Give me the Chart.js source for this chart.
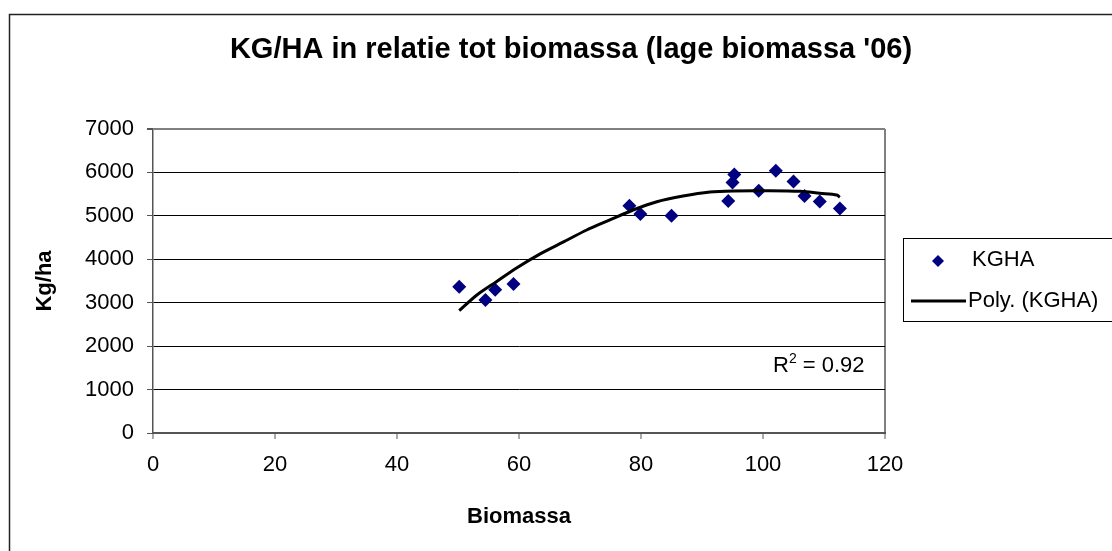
<!DOCTYPE html>
<html>
<head>
<meta charset="utf-8">
<title>KG/HA in relatie tot biomassa</title>
<script src="https://cdn.jsdelivr.net/npm/chart.js@4.4.1/dist/chart.umd.min.js"></script>
<style>
  html, body { margin: 0; padding: 0; background: #fff; overflow: hidden; }
  #wrap { position: relative; width: 1112px; height: 551px; }
</style>
</head>
<body>
<div id="wrap"><canvas id="kghaChart" width="1112" height="551"></canvas></div>
<script>
// meetpunten
const biomassa = [50.2, 54.5, 56.1, 59.1, 78.1, 79.9, 85.0, 94.3, 95.0, 95.3, 99.3, 102.1, 105.0, 106.8, 109.3, 112.6];
const kgha = [3370, 3060, 3300, 3430, 5230, 5040, 5000, 5340, 5770, 5950, 5580, 6040, 5790, 5460, 5330, 5170];

const trendX = [50.2, 53.1, 56.3, 59.6, 63.4, 67.3, 71.1, 74.9, 78.7, 82.6, 86.9, 91.3, 95.1, 100.6, 106.1, 109.3, 112.1, 112.6];
const trendY = [2816, 3178, 3484, 3800, 4120, 4400, 4674, 4905, 5135, 5326, 5457, 5550, 5575, 5579, 5565, 5519, 5480, 5427];

const xTicks = [0, 20, 40, 60, 80, 100, 120];
const yTicks = [0, 1000, 2000, 3000, 4000, 5000, 6000, 7000];

const TITLE = "KG/HA in relatie tot biomassa (lage biomassa '06)";
const R2_TEXT = '0.92';

const COLORS = {
  MARKER: '#000080',
  TREND: '#000000',
  GRID: '#000000',
  FRAME: '#808080',
  AXIS: '#555555',
  TEXT: '#000000'
};
const FONT = '"Liberation Sans", Arial, sans-serif';

// titel, legenda, R² en kader
const decorPlugin = {
  id: 'decor',
  afterDraw(chart) {
    const ctx = chart.ctx;
    ctx.save();

    // buitenkader (rechts en onder buiten beeld)
    ctx.strokeStyle = '#222';
    ctx.lineWidth = 1.5;
    ctx.strokeRect(9.5, 14.5, 1140, 600);

    // titel
    ctx.fillStyle = COLORS.TEXT;
    ctx.font = 'bold 29px ' + FONT;
    ctx.textAlign = 'center';
    ctx.textBaseline = 'middle';
    ctx.fillText(TITLE, 571, 50);

    // R²
    ctx.font = '22px ' + FONT;
    ctx.textAlign = 'left';
    let x = 773;
    const y = 366;
    ctx.fillText('R', x, y);
    x += ctx.measureText('R').width;
    ctx.font = '14px ' + FONT;
    ctx.fillText('2', x, y - 7);
    x += ctx.measureText('2').width;
    ctx.font = '22px ' + FONT;
    ctx.fillText(' = ' + R2_TEXT, x, y);

    // legenda
    ctx.strokeStyle = '#000';
    ctx.lineWidth = 1;
    ctx.strokeRect(903.5, 238.5, 240, 83);

    ctx.fillStyle = COLORS.MARKER;
    ctx.beginPath();
    ctx.moveTo(932, 261);
    ctx.lineTo(938, 255);
    ctx.lineTo(944, 261);
    ctx.lineTo(938, 267);
    ctx.closePath();
    ctx.fill();

    ctx.strokeStyle = COLORS.TREND;
    ctx.lineWidth = 3;
    ctx.beginPath();
    ctx.moveTo(911, 301);
    ctx.lineTo(966, 301);
    ctx.stroke();

    ctx.fillStyle = COLORS.TEXT;
    ctx.font = '22px ' + FONT;
    ctx.fillText('KGHA', 972, 260);
    ctx.fillText('Poly. (KGHA)', 968, 301);

    ctx.restore();
  }
};

new Chart(document.getElementById('kghaChart'), {
  type: 'scatter',
  data: {
    datasets: [{
      label: 'Poly. (KGHA)',
      type: 'line',
      data: trendX.map((v, i) => ({ x: v, y: trendY[i] })),
      borderColor: COLORS.TREND,
      borderWidth: 3,
      pointRadius: 0,
      tension: 0.3,
      fill: false,
      order: 0
    }, {
      label: 'KGHA',
      data: biomassa.map((v, i) => ({ x: v, y: kgha[i] })),
      pointStyle: 'rectRot',
      pointRadius: 7,
      pointBackgroundColor: COLORS.MARKER,
      pointBorderColor: COLORS.MARKER,
      pointBorderWidth: 0,
      order: 1
    }]
  },
  options: {
    responsive: false,
    animation: false,
    devicePixelRatio: 1,
    layout: { padding: { top: 129, right: 227, bottom: 0, left: 0 } },
    plugins: {
      legend: { display: false },
      title: { display: false },
      tooltip: { enabled: false }
    },
    scales: {
      x: {
        type: 'linear',
        min: 0,
        max: 120,
        afterBuildTicks: s => { s.ticks = xTicks.map(v => ({ value: v })); },
        afterFit: s => { s.height = 118; },
        grid: {
          drawOnChartArea: true,
          color: c => (c.tick && c.tick.value === 120 ? COLORS.FRAME : 'rgba(0,0,0,0)'),
          lineWidth: 2,
          tickColor: COLORS.AXIS,
          tickLength: 6,
          tickWidth: 1
        },
        border: { display: true, color: COLORS.AXIS, width: 2 },
        ticks: {
          color: COLORS.TEXT,
          padding: 13,
          maxRotation: 0,
          callback: v => String(v),
          font: { family: FONT, size: 22 }
        },
        title: {
          display: true,
          text: 'Biomassa',
          color: COLORS.TEXT,
          font: { family: FONT, size: 22, weight: 'bold' },
          padding: { top: 0, bottom: 21 }
        }
      },
      y: {
        type: 'linear',
        min: 0,
        max: 7000,
        afterBuildTicks: s => { s.ticks = yTicks.map(v => ({ value: v })); },
        afterFit: s => { s.width = 153; },
        grid: {
          color: c => (c.tick && c.tick.value === 7000 ? COLORS.FRAME : COLORS.GRID),
          lineWidth: c => (c.tick && c.tick.value === 7000 ? 2 : 1),
          tickColor: COLORS.AXIS,
          tickLength: 6
        },
        border: { display: true, color: COLORS.AXIS, width: 1.5 },
        ticks: {
          color: COLORS.TEXT,
          padding: 13,
          callback: v => String(v),
          font: { family: FONT, size: 22 }
        },
        title: {
          display: true,
          text: 'Kg/ha',
          color: COLORS.TEXT,
          font: { family: FONT, size: 22, weight: 'bold' },
          padding: { top: 32, bottom: 0 }
        }
      }
    }
  },
  plugins: [decorPlugin]
});
</script>
</body>
</html>
